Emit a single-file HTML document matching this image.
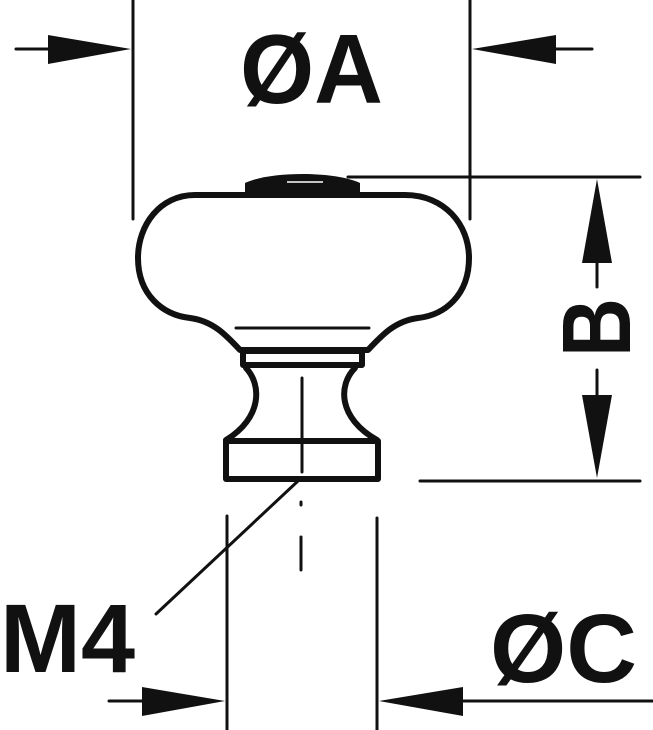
<!DOCTYPE html>
<html><head><meta charset="utf-8"><style>html,body{margin:0;padding:0;background:#fff}svg{display:block}</style></head>
<body>
<svg width="653" height="730" viewBox="0 0 653 730" xmlns="http://www.w3.org/2000/svg">
<g fill="none" stroke="#111" stroke-linecap="round" stroke-linejoin="round">
 <!-- dimension A -->
 <line x1="133" y1="0" x2="133" y2="219" stroke-width="3"/>
 <line x1="470" y1="0" x2="470" y2="219" stroke-width="3"/>
 <line x1="16" y1="49" x2="50" y2="49" stroke-width="3"/>
 <line x1="555" y1="49" x2="592" y2="49" stroke-width="3"/>
 <!-- dimension B -->
 <line x1="348" y1="177" x2="640" y2="177" stroke-width="3"/>
 <line x1="420" y1="481" x2="640" y2="481" stroke-width="3"/>
 <line x1="597" y1="260" x2="597" y2="287" stroke-width="3"/>
 <line x1="597" y1="370" x2="597" y2="398" stroke-width="3"/>
 <!-- knob body -->
 <path d="M195,195 H405 C445,195 469,225 469,258 C469,295 445,315 418,318 C395,321 382,335 368,350 H240 C226,335 213,321 190,318 C163,315 138,295 138,258 C138,225 160,195 195,195 Z" stroke-width="6"/>
 <line x1="236" y1="328" x2="369" y2="328" stroke-width="3"/>
 <rect x="243" y="351" width="119" height="14" stroke-width="6"/>
 <path d="M246,368 C262,385 262,418 226,440" stroke-width="6"/>
 <path d="M355,368 C338,385 338,418 377,440" stroke-width="6"/>
 <rect x="226" y="441" width="152" height="38" stroke-width="6"/>
 <line x1="302" y1="378" x2="302" y2="472" stroke-width="3"/>
 <!-- centerline dashes -->
 <line x1="301" y1="502" x2="301" y2="505" stroke-width="3"/>
 <line x1="301" y1="537" x2="301" y2="570" stroke-width="3"/>
 <!-- leader -->
 <line x1="298" y1="481" x2="156" y2="614" stroke-width="3"/>
 <!-- dimension C -->
 <line x1="227" y1="516" x2="227" y2="730" stroke-width="3"/>
 <line x1="377" y1="518" x2="377" y2="730" stroke-width="3"/>
 <line x1="109" y1="701" x2="145" y2="701" stroke-width="3"/>
 <line x1="460" y1="701" x2="653" y2="701" stroke-width="3"/>
</g>
<g fill="#111">
 <!-- cap -->
 <path d="M245,196 L245,183 C270,171 335,171 360,183 L360,196 Z"/>
 <line x1="287" y1="182" x2="323" y2="182" stroke="#fff" stroke-width="1.5"/>
 <!-- arrowheads -->
 <polygon points="48,35 48,64 131,49"/>
 <polygon points="556,35 556,64 472,49"/>
 <polygon points="597,179 582,263 612,263"/>
 <polygon points="597,478 582,395 612,395"/>
 <polygon points="142,687 142,716 225,701"/>
 <polygon points="463,687 463,716 379,701"/>
 <!-- text -->
 <text x="240" y="103" font-family="Liberation Sans, Arial, sans-serif" font-weight="bold" font-size="98" textLength="143" lengthAdjust="spacingAndGlyphs">ØA</text>
 <text x="0" y="672" font-family="Liberation Sans, Arial, sans-serif" font-weight="bold" font-size="97" textLength="135" lengthAdjust="spacingAndGlyphs">M4</text>
 <text x="490" y="682" font-family="Liberation Sans, Arial, sans-serif" font-weight="bold" font-size="97" textLength="147" lengthAdjust="spacingAndGlyphs">ØC</text>
 <text transform="translate(630,357) rotate(-90)" x="0" y="0" font-family="Liberation Sans, Arial, sans-serif" font-weight="bold" font-size="97" textLength="59" lengthAdjust="spacingAndGlyphs">B</text>
</g>
</svg>
</body></html>
